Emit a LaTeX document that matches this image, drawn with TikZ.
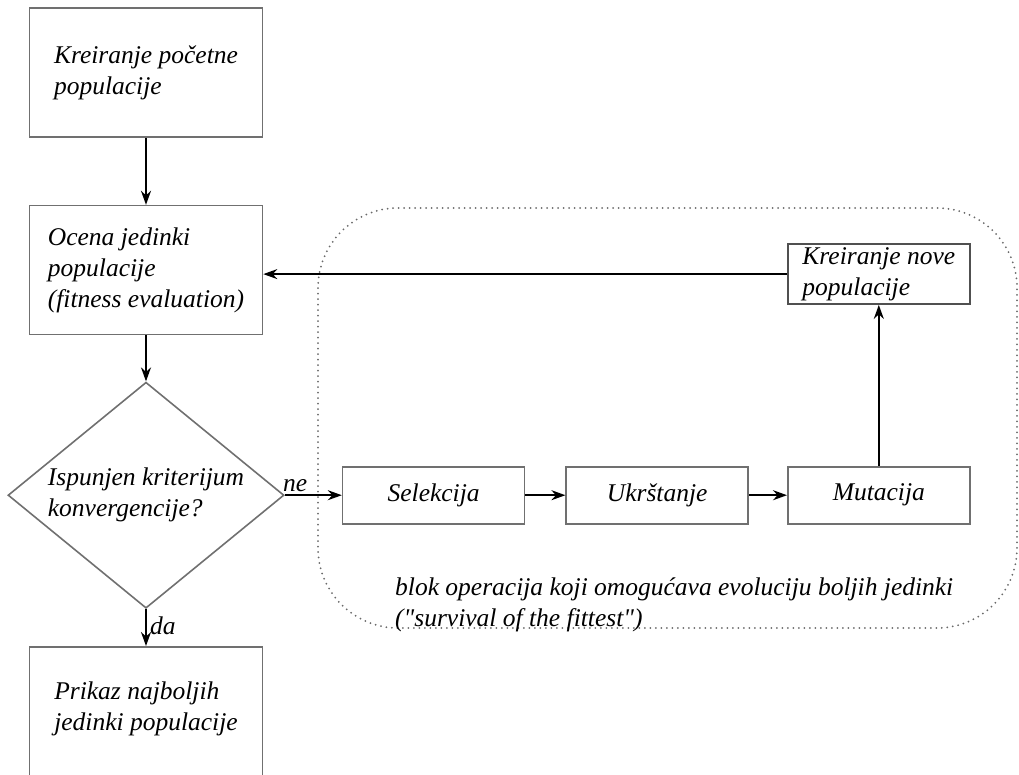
\documentclass[tikz,border=0pt]{standalone}
\usepackage{fontspec}
\setmainfont{Liberation Serif}
\usepackage{tikz}
\usetikzlibrary{arrows.meta, positioning, shapes.geometric}
\definecolor{BoxLine}{HTML}{707070}
\definecolor{BoxDark}{HTML}{505050}
\definecolor{BlockDots}{HTML}{6A6A6A}

\begin{document}
\begin{tikzpicture}[x=1pt, y=-1pt,
  every node/.style={font=\fontsize{25.5}{31}\selectfont\itshape},
  stepbox/.style={draw=BoxLine, line width=1.6pt, align=left, inner sep=0pt},
  flow/.style={-{Stealth[length=14pt, width=10pt]}, line width=1.8pt}]
  \useasboundingbox (0,0) rectangle (1019,774);

  % main column
  \node[stepbox, minimum width=233pt, minimum height=129pt] (start) at (146,72.5) {Kreiranje početne\\populacije};
  \node[stepbox, minimum width=233pt, minimum height=129pt, below=67pt of start] (eval) {Ocena jedinki\\populacije\\(fitness evaluation)};
  \node[stepbox, diamond, aspect=1.22, minimum width=276pt, minimum height=226pt, below=46pt of eval] (check) {Ispunjen kriterijum\\konvergencije?};
  \node[stepbox, minimum width=233pt, minimum height=160pt, text depth=42pt, below=37pt of check] (best) {Prikaz najboljih\\jedinki populacije};

  % evolution block
  \draw[BlockDots, line width=2pt, dash pattern=on 0pt off 5.5pt, line cap=round, rounded corners=80pt] (318,208) rectangle (1017,628);
  \node[stepbox, minimum width=182pt, minimum height=57pt, right=57pt of check] (sel) {Selekcija};
  \node[stepbox, minimum width=182pt, minimum height=57pt, right=40pt of sel] (cross) {Ukrštanje};
  \node[stepbox, minimum width=182pt, minimum height=57pt, right=38pt of cross] (mut) {Mutacija};
  \node[stepbox, draw=BoxDark, minimum width=182pt, minimum height=60pt, above=161pt of mut] (newpop) {Kreiranje nove\\populacije};
  \node[anchor=north west, align=left, inner sep=0pt] (blocknote) at (395,578) {blok operacija koji omogućava evoluciju boljih jedinki\\(\textquotedbl survival of the fittest\textquotedbl)};

  % connectors
  \draw[flow] (start) -- (eval);
  \draw[flow] (eval) -- (check);
  \draw[flow] (check.south) -- node[right, pos=0.45] {da} (best.north);
  \draw[flow] (check.east) -- node[above, pos=0.18, inner sep=3pt] {ne} (sel.west);
  \draw[flow] (sel) -- (cross);
  \draw[flow] (cross) -- (mut);
  \draw[flow] (mut) -- (newpop);
  \draw[flow] (newpop.west) -- (newpop.west -| eval.east);
\end{tikzpicture}
\end{document}
